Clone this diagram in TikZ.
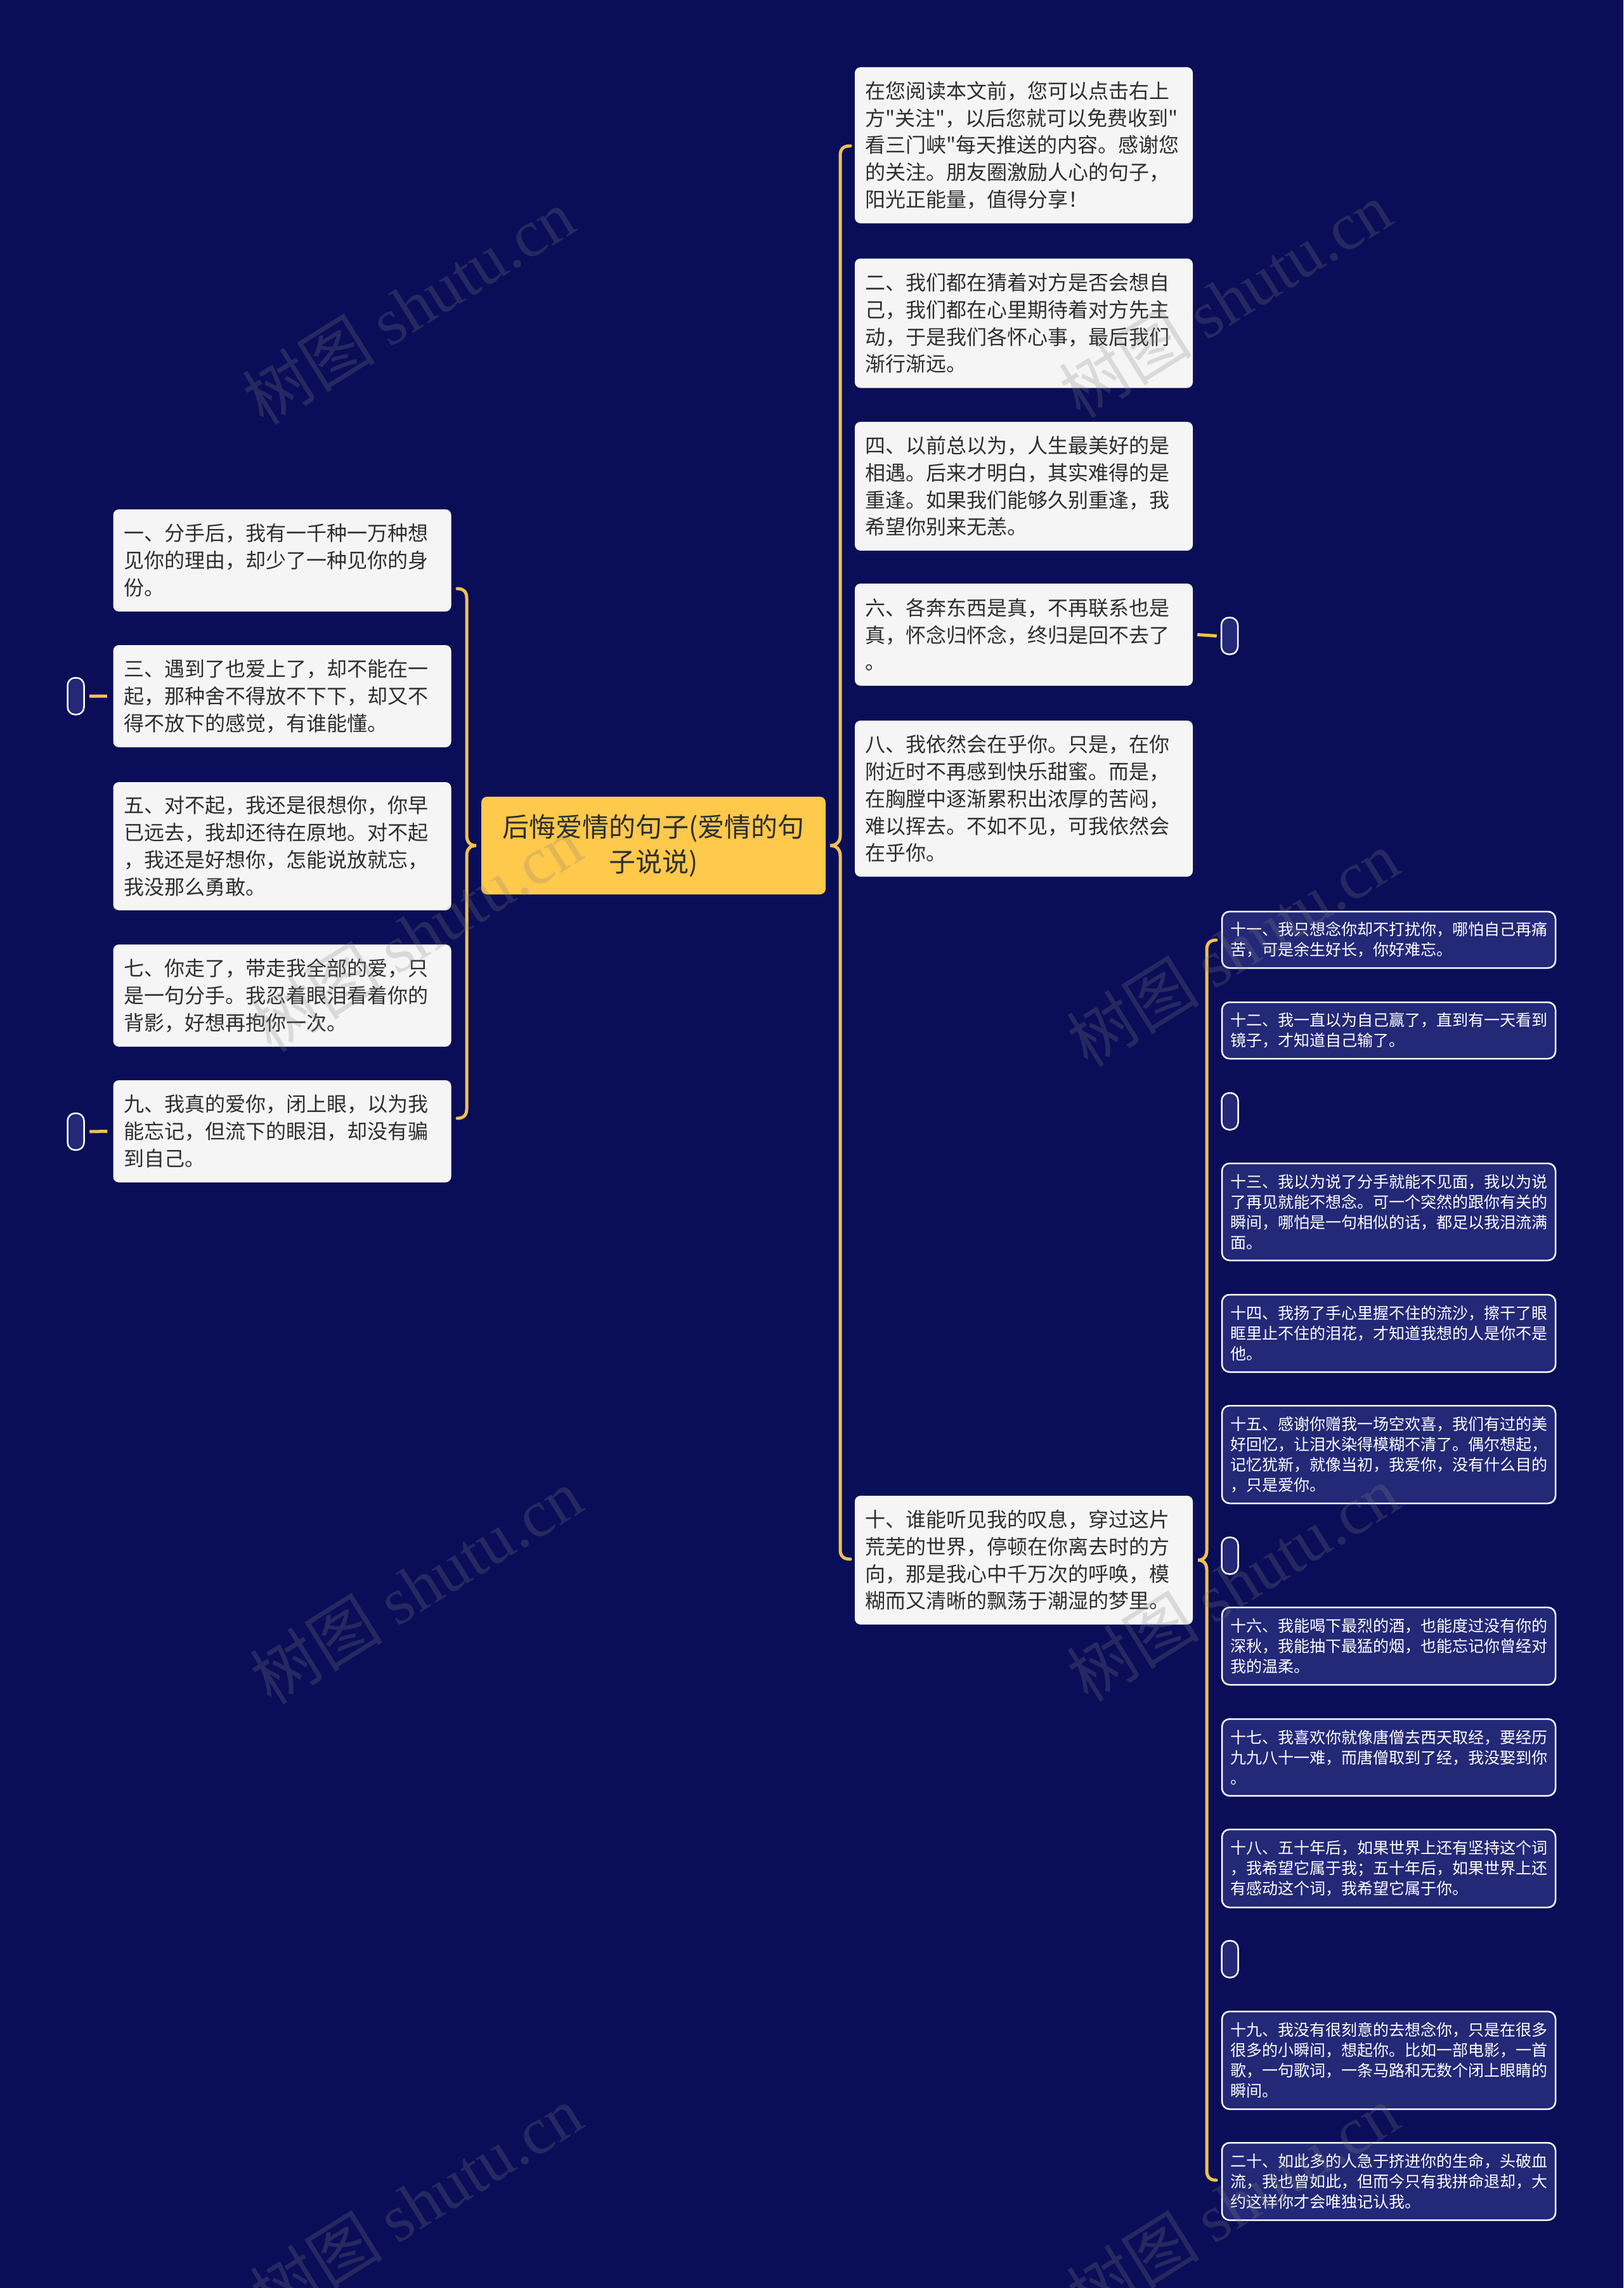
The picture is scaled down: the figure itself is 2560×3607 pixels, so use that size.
\documentclass[tikz,border=0pt]{standalone}
\usepackage{fontspec}
\setmainfont{Noto Sans CJK SC}[Ligatures=TeXOff]
\newfontfamily\cjk{Noto Sans CJK SC}[Ligatures=TeXOff]
\newfontfamily\wmser{Liberation Serif}
\definecolor{bgc}{HTML}{0A0E58}
\definecolor{subc}{HTML}{232877}
\definecolor{goldc}{HTML}{F2C14E}
\definecolor{lightc}{HTML}{F5F5F5}
\definecolor{centerc}{HTML}{FFC94C}
\definecolor{txtc}{HTML}{2E2E2E}
\begin{document}
\begin{tikzpicture}[x=1pt,y=-1pt,
  lbox/.style={fill=lightc, rounded corners=9pt, text=txtc, font=\fontsize{32pt}{42.8pt}\selectfont,
    align=left, text width=500pt, inner xsep=16.5pt, inner ysep=0pt},
  sbox/.style={fill=subc, draw=white, line width=2.5pt, rounded corners=12pt, text=white,
    font=\fontsize{25pt}{32pt}\selectfont, align=left, text width=500pt, inner xsep=13pt, inner ysep=0pt},
  pill/.style={fill=subc, draw=white, line width=2.5pt, rounded corners=12pt,
    minimum width=26pt, minimum height=58pt, inner sep=0pt},
  cbox/.style={fill=centerc, rounded corners=9pt, text=txtc, font=\fontsize{42pt}{55pt}\selectfont,
    align=center, minimum width=543pt, minimum height=154pt, inner sep=0pt},
  brace/.style={draw=goldc, line width=5pt, line cap=round},
  link/.style={draw=goldc, line width=5pt},
  wm/.style={text=gray, opacity=0.24, font=\fontsize{105pt}{105pt}\selectfont, rotate=32}]
\fill[bgc] (0,0) rectangle (2560,3607);
\useasboundingbox (0,0) rectangle (2560,3607);

% centre
\node[cbox] (c) at (1030.5,1333) {后悔爱情的句子(爱情的句\\子说说)};

% left
\node[lbox, minimum height=161pt] (l1) at (445,883.5) {一、分手后，我有一千种一万种想\\见你的理由，却少了一种见你的身\\份。};
\node[lbox, minimum height=161pt] (l3) at (445,1097.5) {三、遇到了也爱上了，却不能在一\\起，那种舍不得放不下下，却又不\\得不放下的感觉，有谁能懂。};
\node[lbox, minimum height=202pt] (l5) at (445,1334) {五、对不起，我还是很想你，你早\\已远去，我却还待在原地。对不起\\，我还是好想你，怎能说放就忘，\\我没那么勇敢。};
\node[lbox, minimum height=161pt] (l7) at (445,1569.5) {七、你走了，带走我全部的爱，只\\是一句分手。我忍着眼泪看着你的\\背影，好想再抱你一次。};
\node[lbox, minimum height=161pt] (l9) at (445,1783.5) {九、我真的爱你，闭上眼，以为我\\能忘记，但流下的眼泪，却没有骗\\到自己。};
\node[pill] (pl3) at (119.5,1097.5) {};
\node[pill] (pl9) at (119.5,1784) {};

% right main column
\node[lbox, minimum height=246pt] (r1) at (1614.5,229) {在您阅读本文前，您可以点击右上\\方"关注"，以后您就可以免费收到"\\看三门峡"每天推送的内容。感谢您\\的关注。朋友圈激励人心的句子，\\阳光正能量，值得分享！};
\node[lbox, minimum height=204pt] (r2) at (1614.5,509.5) {二、我们都在猜着对方是否会想自\\己，我们都在心里期待着对方先主\\动，于是我们各怀心事，最后我们\\渐行渐远。};
\node[lbox, minimum height=203pt] (r3) at (1614.5,766.5) {四、以前总以为，人生最美好的是\\相遇。后来才明白，其实难得的是\\重逢。如果我们能够久别重逢，我\\希望你别来无恙。};
\node[lbox, minimum height=161pt] (r4) at (1614.5,1000.5) {六、各奔东西是真，不再联系也是\\真，怀念归怀念，终归是回不去了\\。};
\node[lbox, minimum height=246pt] (r5) at (1614.5,1259) {八、我依然会在乎你。只是，在你\\附近时不再感到快乐甜蜜。而是，\\在胸膛中逐渐累积出浓厚的苦闷，\\难以挥去。不如不见，可我依然会\\在乎你。};
\node[lbox, minimum height=203pt] (r6) at (1614.5,2459.5) {十、谁能听见我的叹息，穿过这片\\荒芜的世界，停顿在你离去时的方\\向，那是我心中千万次的呼唤，模\\糊而又清晰的飘荡于潮湿的梦里。};
\node[pill] (pr4) at (1939,1002.5) {};

% sub column
\node[sbox, minimum height=89pt] (s11) at (2190,1481.5) {十一、我只想念你却不打扰你，哪怕自己再痛\\苦，可是余生好长，你好难忘。};
\node[sbox, minimum height=89pt] (s12) at (2190,1624.5) {十二、我一直以为自己赢了，直到有一天看到\\镜子，才知道自己输了。};
\node[pill] (p1) at (1939.5,1752) {};
\node[sbox, minimum height=153pt] (s13) at (2190,1910.5) {十三、我以为说了分手就能不见面，我以为说\\了再见就能不想念。可一个突然的跟你有关的\\瞬间，哪怕是一句相似的话，都足以我泪流满\\面。};
\node[sbox, minimum height=122pt] (s14) at (2190,2102) {十四、我扬了手心里握不住的流沙，擦干了眼\\眶里止不住的泪花，才知道我想的人是你不是\\他。};
\node[sbox, minimum height=154pt] (s15) at (2190,2293) {十五、感谢你赠我一场空欢喜，我们有过的美\\好回忆，让泪水染得模糊不清了。偶尔想起，\\记忆犹新，就像当初，我爱你，没有什么目的\\，只是爱你。};
\node[pill] (p2) at (1939.5,2452.5) {};
\node[sbox, minimum height=122pt] (s16) at (2190,2595) {十六、我能喝下最烈的酒，也能度过没有你的\\深秋，我能抽下最猛的烟，也能忘记你曾经对\\我的温柔。};
\node[sbox, minimum height=121pt] (s17) at (2190,2770.5) {十七、我喜欢你就像唐僧去西天取经，要经历\\九九八十一难，而唐僧取到了经，我没娶到你\\。};
\node[sbox, minimum height=123pt] (s18) at (2190,2945.5) {十八、五十年后，如果世界上还有坚持这个词\\，我希望它属于我；五十年后，如果世界上还\\有感动这个词，我希望它属于你。};
\node[pill] (p3) at (1939.5,3088.5) {};
\node[sbox, minimum height=154pt] (s19) at (2190,3248) {十九、我没有很刻意的去想念你，只是在很多\\很多的小瞬间，想起你。比如一部电影，一首\\歌，一句歌词，一条马路和无数个闭上眼睛的\\瞬间。};
\node[sbox, minimum height=122pt] (s20) at (2190,3439) {二十、如此多的人急于挤进你的生命，头破血\\流，我也曾如此，但而今只有我拼命退却，大\\约这样你才会唯独记认我。};

% brace end points
\coordinate (lbt) at (721,928);
\coordinate (lbb) at (721,1763);
\coordinate (lbtip) at ([xshift=-8pt]c.west);
\coordinate (rbt) at (1341,230);
\coordinate (rbb) at (1341,2458);
\coordinate (rbtip) at ([xshift=7pt]c.east);
\coordinate (sbt) at (1918,1482);
\coordinate (sbb) at (1918,3437);
\coordinate (sbtip) at ([xshift=8pt]r6.east);

% braces
\draw[brace] (lbt) .. controls (731,928) and (736,933) .. (736,943) -- (736,1317)
  .. controls (736,1327) and (741,1333) .. (lbtip)
  .. controls (741,1333) and (736,1339) .. (736,1349) -- (736,1748)
  .. controls (736,1758) and (731,1763) .. (lbb);
\draw[brace] (rbt) .. controls (1330,230) and (1325,235) .. (1325,245) -- (1325,1317)
  .. controls (1325,1327) and (1319,1333) .. (rbtip)
  .. controls (1319,1333) and (1325,1339) .. (1325,1349) -- (1325,2443)
  .. controls (1325,2453) and (1330,2458) .. (rbb);
\draw[brace] (sbt) .. controls (1908,1482) and (1903,1487) .. (1903,1497) -- (1903,2444)
  .. controls (1903,2454) and (1898,2459.5) .. (sbtip)
  .. controls (1898,2459.5) and (1903,2465) .. (1903,2475) -- (1903,3422)
  .. controls (1903,3432) and (1908,3437) .. (sbb);

% pill links
\draw[link] ([xshift=-9pt]l3.west) -- ([xshift=7.5pt]pl3.east);
\draw[link] ([xshift=-9pt]l9.west) -- ([xshift=7.5pt]pl9.east);
\draw[link] ([xshift=7pt]r4.east) -- ([xshift=-6pt]pr4.west);

% watermarks
\node[wm] (w1) at (644,483) {\cjk 树图 \wmser shutu.cn};
\node[wm] (w2) at (1932,472) {\cjk 树图 \wmser shutu.cn};
\node[wm] (w3) at (656,1472) {\cjk 树图 \wmser shutu.cn};
\node[wm] (w4) at (1944,1495) {\cjk 树图 \wmser shutu.cn};
\node[wm] (w5) at (656,2500) {\cjk 树图 \wmser shutu.cn};
\node[wm] (w6) at (1944,2496) {\cjk 树图 \wmser shutu.cn};
\node[wm] (w7) at (656,3473) {\cjk 树图 \wmser shutu.cn};
\node[wm] (w8) at (1944,3473) {\cjk 树图 \wmser shutu.cn};
\end{tikzpicture}
\end{document}
